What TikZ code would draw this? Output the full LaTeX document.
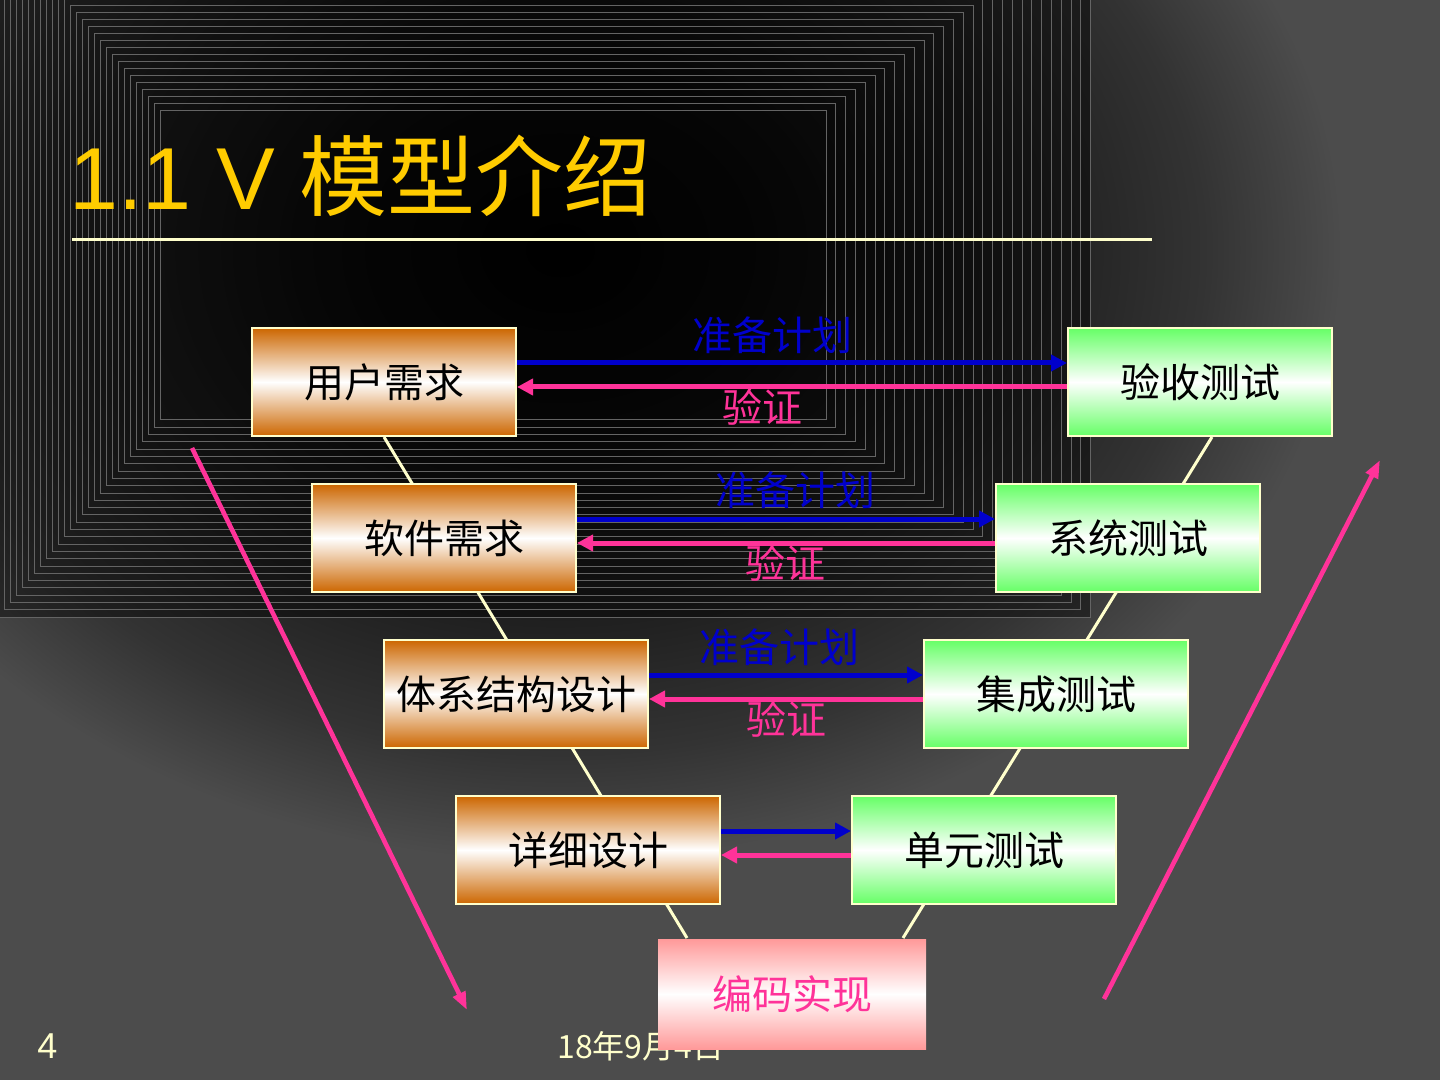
\documentclass[tikz,border=0pt]{standalone}
\usepackage{fontspec}
\setmainfont{Noto Sans CJK SC}
\newfontfamily\latinfont{Liberation Sans}
\usepackage{xcolor}
\usepackage{tikz}
\usetikzlibrary{arrows.meta,positioning,calc}

\definecolor{titleyellow}{RGB}{255,204,0}
\definecolor{rulecream}{RGB}{255,255,204}
\definecolor{planblue}{RGB}{0,0,204}
\definecolor{checkpink}{RGB}{255,51,153}
\definecolor{devorange}{RGB}{204,102,0}
\definecolor{testgreen}{RGB}{102,255,102}
\definecolor{codepink}{RGB}{255,153,153}
\definecolor{bggray}{RGB}{76,76,76}
\definecolor{patgray}{RGB}{100,100,100}
\definecolor{glowA}{RGB}{10,10,10}
\definecolor{glowB}{RGB}{30,30,30}
\definecolor{glowC}{RGB}{51,51,51}

\pgfdeclareradialshading{slideglow}{\pgfpoint{0bp}{0bp}}{color(0bp)=(black); color(5bp)=(glowA); color(10bp)=(glowB); color(14bp)=(glowC); color(17bp)=(bggray); color(50bp)=(bggray)}
\pgfdeclarelayer{back}
\pgfsetlayers{back,main}

\tikzset{
  devbox/.style={draw=rulecream, line width=1pt, top color=devorange, bottom color=devorange, middle color=white,
    minimum width=132pt, minimum height=54pt, inner sep=0pt, font=\fontsize{20pt}{24pt}\selectfont},
  testbox/.style={devbox, top color=testgreen, bottom color=testgreen, middle color=white},
  codebox/.style={devbox, draw=none, top color=codepink, bottom color=codepink, middle color=white,
    minimum width=134pt, minimum height=55pt, text=checkpink},
  planlabel/.style={planblue, inner sep=0pt, font=\fontsize{20pt}{24pt}\selectfont},
  checklabel/.style={checkpink, inner sep=0pt, font=\fontsize{20pt}{24pt}\selectfont},
  planarrow/.style={-{Triangle[length=8pt,width=8pt]}, line width=2.5pt, planblue},
  checkarrow/.style={-{Triangle[length=8pt,width=8pt]}, line width=2.5pt, checkpink},
  phasearrow/.style={-{Triangle[length=9pt,width=6.5pt]}, line width=2.3pt, checkpink},
  vline/.style={rulecream, line width=1.5pt},
  patline/.style={patgray, line width=0.5pt}
}

\begin{document}
\begin{tikzpicture}[x=0.5pt, y=-0.5pt]
  \useasboundingbox (0,0) rectangle (1440,1080);

  % Background
  \begin{pgfonlayer}{back}
    \begin{scope}
      \clip (0,0) rectangle (1440,1080);
      \fill[bggray] (0,0) rectangle (1440,1080);
      \shade[shading=slideglow] (560,250) ellipse [x radius=575pt, y radius=450pt];
      \fill[black, opacity=0.4] (0,0) rectangle (1091,617);
      \foreach \k in {0,...,27}
        \draw[patline] ({160-6*\k},{111-7*\k}) rectangle ({826+9.8*\k},{420+7.3*\k});
    \end{scope}
  \end{pgfonlayer}

  % Title
  \node[anchor=base west, inner sep=0pt, titleyellow, font=\fontsize{44pt}{52pt}\selectfont] (title) at (69,210) {{\latinfont 1.1 V }模型介绍};
  \draw[rulecream, line width=1.5pt] (72,240) -- (1152,240);

  % Footer
  \node[anchor=base west, inner sep=0pt, rulecream, font=\latinfont\fontsize{18pt}{22pt}\selectfont] (pagenum) at (37,1058) {4};
  \node[anchor=base west, inner sep=0pt, rulecream, font=\fontsize{16pt}{20pt}\selectfont] (date) at (557,1058) {18年9月4日};

  % Development (left)
  \node[devbox] (yhxq) at (384,382) {用户需求};
  \node[devbox] (rjxq) at (444,538) {软件需求};
  \node[devbox] (txjg) at (516,694) {体系结构设计};
  \node[devbox] (xxsj) at (588,850) {详细设计};

  % Testing (right)
  \node[testbox] (yscs) at (1200,382) {验收测试};
  \node[testbox] (xtcs) at (1128,538) {系统测试};
  \node[testbox] (jccs) at (1056,694) {集成测试};
  \node[testbox] (dycs) at (984,850) {单元测试};

  % Coding (bottom)
  \node[codebox] (bmsx) at (792,994) {编码实现};

  % V arms
  \begin{pgfonlayer}{back}
    \draw[vline] (yhxq.south) -- ([xshift=15pt]bmsx.north west);
    \draw[vline] ([xshift=6pt]yscs.south) -- ([xshift=-12pt]bmsx.north east);
  \end{pgfonlayer}

  % Plan / check arrows
  \draw[planarrow] ([yshift=9.5pt]yhxq.east) -- ([yshift=9.5pt]yscs.west);
  \draw[checkarrow] ([yshift=-2.5pt]yscs.west) -- ([yshift=-2.5pt]yhxq.east);
  \draw[planarrow] ([yshift=9.5pt]rjxq.east) -- ([yshift=9.5pt]xtcs.west);
  \draw[checkarrow] ([yshift=-2.5pt]xtcs.west) -- ([yshift=-2.5pt]rjxq.east);
  \draw[planarrow] ([yshift=9.5pt]txjg.east) -- ([yshift=9.5pt]jccs.west);
  \draw[checkarrow] ([yshift=-2.5pt]jccs.west) -- ([yshift=-2.5pt]txjg.east);
  \draw[planarrow] ([yshift=9.5pt]xxsj.east) -- ([yshift=9.5pt]dycs.west);
  \draw[checkarrow] ([yshift=-2.5pt]dycs.west) -- ([yshift=-2.5pt]xxsj.east);

  \node[planlabel] (plan1) at (772,335) {准备计划};
  \node[checklabel] (check1) at (762,407) {验证};
  \node[planlabel] (plan2) at (795,490) {准备计划};
  \node[checklabel] (check2) at (785,563) {验证};
  \node[planlabel] (plan3) at (779,647) {准备计划};
  \node[checklabel] (check3) at (786,719) {验证};

  % Phase arrows
  \coordinate (downtop) at (192,448);
  \coordinate (downend) at (467,1010);
  \draw[phasearrow] (downtop) -- (downend);
  \coordinate (upstart) at (1104,999);
  \coordinate (uptip) at (1380,460);
  \draw[phasearrow] (upstart) -- (uptip);
\end{tikzpicture}
\end{document}
